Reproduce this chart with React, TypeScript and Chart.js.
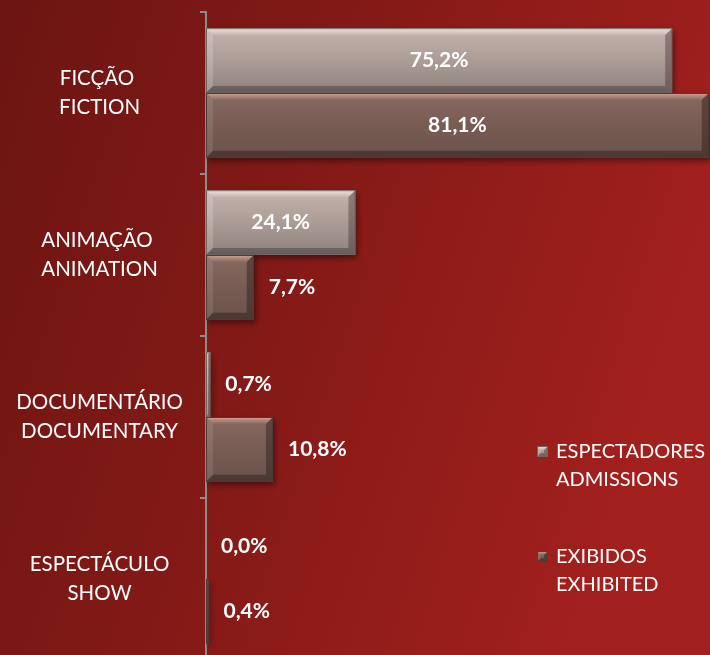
import { useEffect, useRef } from "react";
import { Chart, registerables } from "chart.js";

Chart.register(...registerables);

const categories: string[][] = [
  ["FICÇÃO ", "FICTION"],
  ["ANIMAÇÃO ", "ANIMATION"],
  ["DOCUMENTÁRIO", "DOCUMENTARY"],
  ["ESPECTÁCULO", "SHOW"],
];
const admissions = [75.2, 24.1, 0.7, 0.0];
const exhibited = [81.1, 7.7, 10.8, 0.4];
const seriesNames: string[][] = [
  ["ESPECTADORES", "ADMISSIONS"],
  ["EXIBIDOS", "EXHIBITED"],
];

type BarStyle = { top: string; mid: string; bottom: string; hi: string; side: string; dark: string; edge: string };
const styles: BarStyle[] = [
  { top: "#c5b3ad", mid: "#ac9c96", bottom: "#8d817d", hi: "#f2e4df", side: "rgba(255,255,255,0.18)", dark: "rgba(40,30,30,0.35)", edge: "#6e6664" },
  { top: "#87695f", mid: "#785c54", bottom: "#6a524b", hi: "#d1a393", side: "rgba(255,255,255,0.10)", dark: "rgba(20,10,10,0.35)", edge: "#4a3d3a" },
];

function bevelRect(ctx: CanvasRenderingContext2D, x0: number, y0: number, x1: number, y1: number, s: BarStyle, bev: number, shadow: boolean) {
  const w = x1 - x0;
  const h = y1 - y0;
  if (w <= 0.2) return;
  const b = Math.max(0, Math.min(bev, w / 2, h / 2));
  ctx.save();
  if (shadow) {
    ctx.shadowColor = "rgba(0,0,0,0.45)";
    ctx.shadowBlur = 6;
    ctx.shadowOffsetX = 2;
    ctx.shadowOffsetY = 3;
  }
  const g = ctx.createLinearGradient(0, y0, 0, y1);
  g.addColorStop(0, s.top);
  g.addColorStop(0.5, s.mid);
  g.addColorStop(1, s.bottom);
  ctx.fillStyle = g;
  ctx.fillRect(x0, y0, w, h);
  ctx.restore();
  if (b > 1) {
    ctx.save();
    const poly = (pts: number[][], fill: string | CanvasGradient) => {
      ctx.beginPath();
      ctx.moveTo(pts[0][0], pts[0][1]);
      for (let i = 1; i < pts.length; i++) ctx.lineTo(pts[i][0], pts[i][1]);
      ctx.closePath();
      ctx.fillStyle = fill;
      ctx.fill();
    };
    const tg = ctx.createLinearGradient(0, y0, 0, y0 + b);
    tg.addColorStop(0, s.hi);
    tg.addColorStop(1, s.top);
    poly([[x0, y0], [x1, y0], [x1 - b, y0 + b], [x0 + b, y0 + b]], tg);
    poly([[x0, y0], [x0 + b, y0 + b], [x0 + b, y1 - b], [x0, y1]], s.side);
    poly([[x1, y0], [x1, y1], [x1 - b, y1 - b], [x1 - b, y0 + b]], s.dark);
    poly([[x0, y1], [x1, y1], [x1 - b, y1 - b], [x0 + b, y1 - b]], s.dark);
    ctx.restore();
  }
  ctx.save();
  ctx.strokeStyle = s.edge;
  ctx.lineWidth = 1;
  ctx.strokeRect(x0 + 0.5, y0 + 0.5, Math.max(0, w - 1), h - 1);
  ctx.restore();
}

const fmt = (v: number) => v.toFixed(1).replace(".", ",") + "%";

export default function App() {
  const ref = useRef<HTMLCanvasElement>(null);
  useEffect(() => {
    const canvas = ref.current!;
    const bgPlugin = {
      id: "bgGrad",
      beforeDraw(chart: any) {
        const { ctx, width, height } = chart;
        ctx.save();
        const g = ctx.createLinearGradient(0, 0, width, height * 0.35);
        g.addColorStop(0, "#6c1512");
        g.addColorStop(0.5, "#851a17");
        g.addColorStop(1, "#a2201d");
        ctx.fillStyle = g;
        ctx.fillRect(0, 0, width, height);
        ctx.restore();
      },
    };
    const barPlugin = {
      id: "bevelBars",
      afterDatasetsDraw(chart: any) {
        const { ctx, chartArea } = chart;
        ctx.save();
        ctx.beginPath();
        ctx.rect(chartArea.left, chartArea.top - 20, chartArea.right - chartArea.left + 20, chartArea.bottom - chartArea.top + 40);
        ctx.clip();
        chart.data.datasets.forEach((ds: any, di: number) => {
          const meta = chart.getDatasetMeta(di);
          meta.data.forEach((el: any) => {
            const p = el.getProps(["x", "y", "base", "height"], true);
            const x0 = Math.min(p.base, p.x);
            const x1 = Math.max(p.base, p.x);
            bevelRect(ctx, x0, p.y - p.height / 2, x1, p.y + p.height / 2, styles[di], 7, true);
          });
        });
        ctx.restore();
        // data labels
        ctx.save();
        ctx.fillStyle = "#ffffff";
        ctx.font = "bold 21px Lato, 'Open Sans', sans-serif";
        ctx.textBaseline = "middle";
        chart.data.datasets.forEach((ds: any, di: number) => {
          const meta = chart.getDatasetMeta(di);
          meta.data.forEach((el: any, i: number) => {
            const v = ds.data[i] as number;
            const p = el.getProps(["x", "y", "base"], true);
            if (v >= 20) {
              ctx.textAlign = "center";
              ctx.fillText(fmt(v), (p.base + p.x) / 2, p.y);
            } else {
              ctx.textAlign = "left";
              ctx.fillText(fmt(v), p.x + 15, p.y);
            }
          });
        });
        ctx.restore();
      },
    };
    const legendPlugin = {
      id: "customLegend",
      afterDraw(chart: any) {
        const { ctx } = chart;
        ctx.save();
        ctx.font = "20px Lato, 'Open Sans', sans-serif";
        ctx.textAlign = "left";
        ctx.textBaseline = "middle";
        seriesNames.forEach((lines, i) => {
          const y = 452 + i * 105;
          bevelRect(ctx, 537, y - 6, 548, y + 5, styles[i], 4, false);
          ctx.fillStyle = "#ffffff";
          lines.forEach((t, li) => ctx.fillText(t, 556, y + li * 28));
        });
        ctx.restore();
      },
    };
    const chart = new Chart(canvas, {
      type: "bar",
      data: {
        labels: categories as any,
        datasets: [
          { label: seriesNames[0].join(" "), data: admissions, backgroundColor: "rgba(0,0,0,0)", borderWidth: 0, categoryPercentage: 0.8, barPercentage: 1.0 },
          { label: seriesNames[1].join(" "), data: exhibited, backgroundColor: "rgba(0,0,0,0)", borderWidth: 0, categoryPercentage: 0.8, barPercentage: 1.0 },
        ],
      },
      options: {
        indexAxis: "y",
        animation: false,
        responsive: false,
        layout: { padding: { top: 12, bottom: 8, left: 0, right: 0 } },
        plugins: { legend: { display: false }, tooltip: { enabled: false } },
        scales: {
          x: { display: false, min: 0, max: 81.3 },
          y: {
            grid: { offset: true, drawOnChartArea: false, tickLength: 6, color: "#8c8c8c", lineWidth: 2 },
            border: { color: "#8c8c8c", width: 2 },
            ticks: {
              color: "#ffffff",
              font: { family: "Lato, 'Open Sans', sans-serif", size: 20.5, lineHeight: 1.4 },
              crossAlign: "center",
              padding: 17,
              autoSkip: false,
            },
            afterFit: (s: any) => {
              s.width = 206;
              s.paddingTop = 0;
              s.paddingBottom = 0;
            },
          },
        },
      } as any,
      plugins: [bgPlugin, barPlugin, legendPlugin],
    });
    return () => chart.destroy();
  }, []);
  return (
    <div style={{ position: "fixed", left: 0, top: 0, width: 710, height: 655, overflow: "hidden" }}>
      <canvas ref={ref} width={710} height={668} style={{ display: "block", width: 710, height: 668 }} />
    </div>
  );
}
